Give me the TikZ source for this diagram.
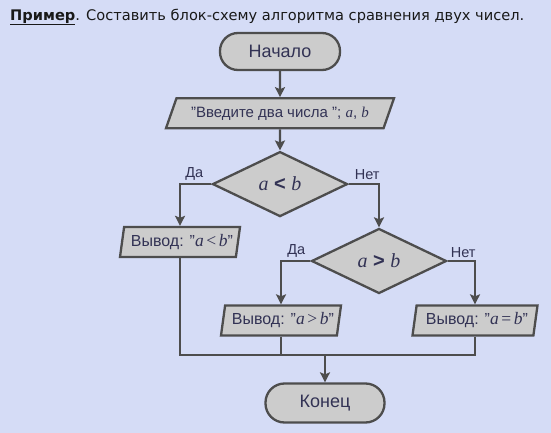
\documentclass[tikz,border=0pt]{standalone}
\usepackage{fontspec}
\setmainfont{Liberation Sans}
\newfontfamily\titlefont{DejaVu Sans}
\newfontfamily\varfont{Liberation Serif}
\usetikzlibrary{positioning,arrows.meta,shapes.geometric}
\definecolor{PageBand}{RGB}{213,220,246}
\definecolor{BoxFill}{RGB}{204,204,204}
\definecolor{BoxLine}{RGB}{77,77,77}
\definecolor{InkNavy}{RGB}{50,50,84}
\definecolor{TitleInk}{RGB}{25,25,25}
\newcommand{\vv}[1]{{\varfont\itshape #1}}
\newcommand{\ov}[1]{{\varfont\fontsize{17.5}{19}\selectfont #1}}
\tikzset{
  flow/.style={-{Stealth[length=10pt,width=10pt,inset=2pt]},line width=2.3pt,draw=BoxLine},
  wire/.style={line width=2.3pt,draw=BoxLine},
  termbox/.style={draw=BoxLine,fill=BoxFill,line width=2.3pt,rounded corners=18pt,
    minimum height=37pt,inner sep=0pt,text=InkNavy,font=\fontsize{18}{21}\selectfont},
  inbox/.style={trapezium,trapezium left angle=52,trapezium right angle=128,
    trapezium stretches body,draw=BoxLine,fill=BoxFill,line width=2.3pt,
    minimum height=30pt,inner sep=0pt,text=InkNavy,font=\fontsize{15}{18}\selectfont},
  outbox/.style={trapezium,trapezium left angle=75,trapezium right angle=105,
    trapezium stretches body,draw=BoxLine,fill=BoxFill,line width=2.3pt,
    minimum height=30pt,inner sep=0pt,text=InkNavy,font=\fontsize{16}{19}\selectfont},
  testbox/.style={diamond,aspect=2.08,draw=BoxLine,fill=BoxFill,line width=2.3pt,
    minimum width=135pt,minimum height=65pt,inner sep=0pt,text=InkNavy,
    font=\fontsize{20}{24}\selectfont},
  lbl/.style={inner sep=0pt,text=InkNavy,font=\fontsize{14.5}{17}\selectfont}
}
\begin{document}
\begin{tikzpicture}[x=1pt,y=-1pt]
  \fill[PageBand] (0,0) rectangle (551,433);
  \useasboundingbox (0,0) rectangle (551,433);

  \node[anchor=west,inner sep=0pt,text=TitleInk,font=\titlefont\fontsize{14.6}{17}\selectfont] (title) at (10,17)
    {\underline{\textbf{Пример}}. Составить блок-схему алгоритма сравнения двух чисел.};

  \node[termbox,minimum width=120pt] (start) at (280,51.5) {Начало};
  \node[inbox,minimum width=228pt,below=26pt of start] (input) {"Введите два числа "; \vv{a}, \vv{b}};
  \node[testbox,below=21pt of input] (lt) {\vv{a} \textbf{<} \vv{b}};
  \node[outbox,minimum width=120pt] (outlt) at (180,242) {\hspace{4pt}Вывод: "\ov{\itshape a}\,\ov{<}\,\ov{\itshape b}"};
  \node[testbox] (gt) at (379,261) {\vv{a} \textbf{>} \vv{b}};
  \node[outbox,minimum width=120pt] (outgt) at (281,320.5) {\hspace{4pt}Вывод: "\ov{\itshape a}\,\ov{>}\,\ov{\itshape b}"};
  \node[outbox,minimum width=125pt] (outeq) at (475,320.5) {\hspace{4pt}Вывод: "\ov{\itshape a}\,\ov{=}\,\ov{\itshape b}"};
  \node[termbox,minimum width=119pt,minimum height=39pt,rounded corners=19pt] (stop) at (325,403) {Конец};
  \coordinate (join) at (325,355);

  \node[lbl,above left=4pt and 8pt of lt.west] (ltyes) {Да};
  \node[lbl,above right=4pt and 6pt of lt.east] (ltno) {Нет};
  \node[lbl,above left=3pt and 5pt of gt.west] (gtyes) {Да};
  \node[lbl,above right=3pt and 3pt of gt.east] (gtno) {Нет};

  \draw[flow] (start) -- (input);
  \draw[flow] (input) -- (lt);
  \draw[flow] (lt.west) -| (outlt.north);
  \draw[flow] (lt.east) -| (gt.north);
  \draw[flow] (gt.west) -| (outgt.north);
  \draw[flow] (gt.east) -| (outeq.north);
  \draw[wire] (outlt.south) |- (join) -| (outeq.south);
  \draw[wire] (outgt.south) -- (outgt.south |- join);
  \draw[flow] (join) -- (stop);
\end{tikzpicture}
\end{document}
